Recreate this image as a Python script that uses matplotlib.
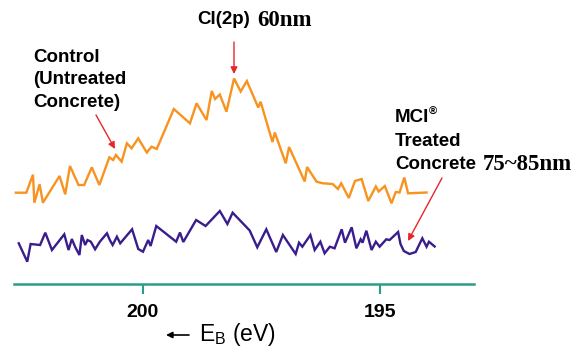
import matplotlib
matplotlib.use("Agg")
import matplotlib.pyplot as plt

# Binding energy (eV) and intensity (arb. units)
control_eb = [202.68, 202.46, 202.32, 202.29, 202.18, 202.11, 201.76, 201.64, 201.54, 201.36,
              201.24, 201.08, 200.92, 200.71, 200.63, 200.57, 200.45, 200.34, 200.24, 200.10,
              199.92, 199.82, 199.71, 199.35, 199.01, 198.87, 198.66, 198.55, 198.48, 198.38,
              198.24, 198.08, 197.94, 197.81, 197.57, 197.52, 197.27, 197.22, 196.99, 196.92,
              196.59, 196.54, 196.34, 196.21, 196.00, 195.89, 195.82, 195.66, 195.53, 195.39,
              195.25, 195.09, 195.03, 194.90, 194.76, 194.67, 194.59, 194.49, 194.41, 194.02]
control_int = [91.3, 91.3, 109.3, 81.3, 99.7, 81.3, 108, 89.7, 118, 99,
               99, 116.7, 99, 126.7, 124, 129, 122.3, 140.7, 135.7, 145.7,
               131.5, 137.3, 135, 175, 160.7, 180.7, 164, 193, 185, 189.5,
               172.3, 205.5, 192.5, 203, 176.5, 182.3, 142, 151.5, 120.7, 137,
               102.5, 117, 102.3, 100.7, 100, 95, 100.7, 86, 103, 105,
               83, 97.5, 92.5, 98, 80.7, 92, 91.5, 106.5, 90.7, 91.5]

treated_eb = [202.62, 202.44, 202.37, 202.17, 202.06, 201.92, 201.66, 201.57, 201.50, 201.43,
              201.34, 201.29, 201.22, 201.17, 201.10, 201.01, 200.91, 200.76, 200.70, 200.64,
              200.55, 200.48, 200.23, 200.10, 200.00, 199.89, 199.84, 199.72, 199.30, 199.22,
              199.15, 198.88, 198.68, 198.38, 198.22, 198.11, 197.75, 197.59, 197.40, 197.19,
              197.05, 196.78, 196.71, 196.64, 196.47, 196.38, 196.26, 196.17, 196.06, 195.96,
              195.81, 195.74, 195.60, 195.50, 195.41, 195.37, 195.29, 195.18, 195.09, 195.01,
              194.87, 194.80, 194.62, 194.57, 194.50, 194.38, 194.25, 194.11, 194.02, 193.97,
              193.85]
treated_int = [40.7, 22.3, 40, 39, 51.3, 34, 49.7, 34, 45, 37,
               29, 49, 39, 44, 42.3, 34.7, 42.3, 50.7, 44, 39,
               47.3, 40.7, 54.7, 35, 32.3, 44, 38, 58, 42.3, 51.5,
               42, 64, 58, 73, 60, 71.3, 53.5, 36.7, 54.7, 32,
               49, 30, 41.3, 37.3, 49, 34, 42.3, 30.7, 37.3, 35.7,
               54.7, 41.3, 56.7, 35.7, 44.7, 41.3, 53.3, 34, 42.3, 37.3,
               44.7, 44, 52, 40, 33, 30, 32, 45.7, 37.3, 42.3,
               37.5]

xticks = [200, 195]
xtick_labels = ["200", "195"]

W, H = 587, 353
fig = plt.figure(figsize=(W / 100, H / 100), dpi=100)
fig.patch.set_facecolor("white")

def fx(x):
    return x / W

def fy(y):
    return 1 - y / H

ax = fig.add_axes([fx(14), fy(284), (474 - 14) / W, 284 / H])
ax.plot(control_eb, control_int, color="#f7931e", lw=1.7, solid_joinstyle="miter")
ax.plot(treated_eb, treated_int, color="#3a1d8c", lw=1.7, solid_joinstyle="miter")
ax.set_xlim(202.72, 193.02)
ax.set_ylim(0, 284)
for s in ["top", "left", "right"]:
    ax.spines[s].set_visible(False)
ax.spines["bottom"].set_color("#2a9d8a")
ax.spines["bottom"].set_linewidth(1.8)
ax.set_yticks([])
ax.set_xticks(xticks)
ax.set_xticklabels(xtick_labels, fontfamily="Liberation Sans", fontweight="bold", fontsize=14)
ax.tick_params(axis="x", direction="out", length=7.5, width=1.5, color="#2a9d8a", pad=7)
ax.patch.set_alpha(0)

sans = "Liberation Sans"
serif = "Liberation Serif"
red = "#e8262a"
fs = 13.5

# Annotations
fig.text(fx(33), fy(57), "Control", fontfamily=sans, fontweight="bold", fontsize=fs, va="center", ha="left")
fig.text(fx(33), fy(80), "(Untreated", fontfamily=sans, fontweight="bold", fontsize=fs, va="center", ha="left")
fig.text(fx(33), fy(103), "Concrete)", fontfamily=sans, fontweight="bold", fontsize=fs, va="center", ha="left")

fig.text(fx(197), fy(20), "Cl(2p)", fontfamily=sans, fontweight="bold", fontsize=fs, va="center", ha="left")
fig.text(fx(257), fy(20), "60nm", fontfamily=serif, fontweight="bold", fontsize=16.5, va="center", ha="left")

fig.text(fx(395), fy(118), "MCI", fontfamily=sans, fontweight="bold", fontsize=fs, va="center", ha="left")
fig.text(fx(429), fy(112), "\u00ae", fontfamily=sans, fontweight="bold", fontsize=8, va="center", ha="left")
fig.text(fx(395), fy(142), "Treated", fontfamily=sans, fontweight="bold", fontsize=fs, va="center", ha="left")
fig.text(fx(395), fy(165), "Concrete", fontfamily=sans, fontweight="bold", fontsize=fs, va="center", ha="left")
fig.text(fx(483), fy(165), "75~85nm", fontfamily=serif, fontweight="bold", fontsize=16.5, va="center", ha="left")

arrow = dict(arrowstyle="-|>", color=red, lw=1.0, mutation_scale=10, shrinkA=0, shrinkB=0)
fig.add_artist(matplotlib.patches.FancyArrowPatch((fx(96), fy(115)), (fx(115), fy(149)),
                                                  transform=fig.transFigure, **arrow))
fig.add_artist(matplotlib.patches.FancyArrowPatch((fx(234), fy(42)), (fx(234), fy(74)),
                                                  transform=fig.transFigure, **arrow))
fig.add_artist(matplotlib.patches.FancyArrowPatch((fx(442), fy(178)), (fx(408), fy(241)),
                                                  transform=fig.transFigure, **arrow))

# x-axis label with arrow
fig.add_artist(matplotlib.patches.FancyArrowPatch((fx(189), fy(335)), (fx(166), fy(335)),
                                                  transform=fig.transFigure,
                                                  arrowstyle="-|>", color="black", lw=1.2,
                                                  mutation_scale=9, shrinkA=0, shrinkB=0))
fig.text(fx(199), fy(335), r"E$_\mathregular{B}$ (eV)", fontfamily=sans, fontsize=16.5, va="center", ha="left")

fig.savefig("out.png", dpi=100, facecolor="white")
